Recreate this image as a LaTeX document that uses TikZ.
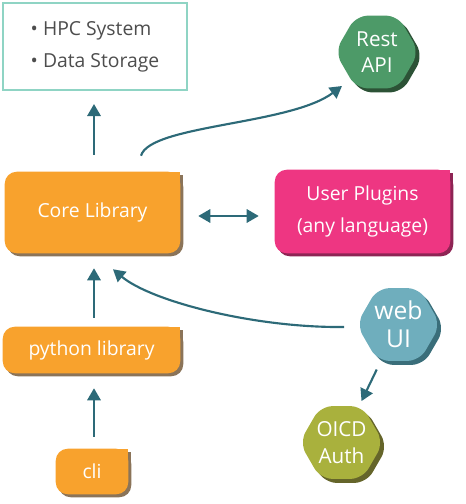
\documentclass[tikz,border=0pt]{standalone}
\usepackage{fontspec}
\setmainfont{Open Sans}
\usetikzlibrary{arrows.meta,shapes.geometric,shadows,calc,backgrounds}
\definecolor{orangec}{HTML}{F8A22D}
\definecolor{orangesh}{HTML}{8B7459}
\definecolor{pinkc}{HTML}{EE3682}
\definecolor{pinksh}{HTML}{8E2454}
\definecolor{hexgreen}{HTML}{4D9A68}
\definecolor{hexgreensh}{HTML}{2C5236}
\definecolor{hexweb}{HTML}{6FAEBD}
\definecolor{hexwebsh}{HTML}{3A6E7A}
\definecolor{hexolive}{HTML}{A9B13D}
\definecolor{hexolivesh}{HTML}{65652A}
\definecolor{arrowc}{HTML}{2D6A78}
\definecolor{hpcc}{HTML}{8FD4C4}
\definecolor{textc}{HTML}{4D4D4D}
\newcommand\tabbox[3]{%
  \fill[#3, rounded corners=9pt] ($(#1.north west)+(3,3)$) rectangle ($(#1.south east)+(3,3)$);
  \fill[#3] ($(#1.north east)+(3,3)$) rectangle ($(#1.north east)+(-15,18)$);
  \fill[#2, rounded corners=9pt] (#1.north west) rectangle (#1.south east);
  \fill[#2] (#1.north east) rectangle ($(#1.north east)+(-15,15)$);}
\begin{document}
\begin{tikzpicture}[x=0.75pt,y=-0.75pt,
  txt/.style={text=white, align=center, inner sep=0pt, font=\fontsize{14.5}{24}\selectfont},
  arr/.style={draw=arrowc, line width=1.6pt, -{Triangle[length=9pt,width=10pt]}},
  hex/.style={regular polygon, regular polygon sides=6, minimum size=63pt, inner sep=0pt,
    rounded corners=9pt, text=white, align=center, fill=#1,
    drop shadow={shadow xshift=3pt, shadow yshift=-3pt, fill=#1sh, opacity=1}}]
\useasboundingbox (0,0) rectangle (466,504);

% nodes
\node[draw=hpcc, line width=1.5pt, minimum width=138pt, minimum height=65.25pt, inner sep=0pt,
  align=left, text=textc, font=\fontsize{14.5}{24}\selectfont] (hpc) at (95,46.5) {• HPC System\\• Data Storage};
\node[txt, minimum width=131.25pt, minimum height=60.75pt] (core) at (92.5,212.5) {Core Library};
\node[txt, minimum width=131.25pt, minimum height=62.25pt] (plugins) at (362.5,211.5) {User Plugins\\(any language)};
\node[txt, minimum width=132.75pt, minimum height=34.5pt] (python) at (91.5,350) {python library};
\node[txt, minimum width=54pt, minimum height=33.75pt] (cli) at (92,471.5) {cli};
\node[hex=hexgreen, font=\fontsize{15.5}{19.5}\selectfont] (rest) at (377,52) {Rest\\API};
\node[hex=hexweb, font=\fontsize{18.5}{21}\selectfont] (web) at (398.5,324.5) {web\\UI};
\node[hex=hexolive, font=\fontsize{15.5}{20}\selectfont] (oicd) at (341.5,442.5) {OICD\\Auth};

\begin{scope}[on background layer]
  \tabbox{core}{orangec}{orangesh}
  \tabbox{plugins}{pinkc}{pinksh}
  \tabbox{python}{orangec}{orangesh}
  \tabbox{cli}{orangec}{orangesh}
\end{scope}

% connectors
\draw[arr] ($(core.north)+(1.5,-17)$) -- ($(hpc.south)+(-1,13)$);
\draw[arr, {Triangle[length=9pt,width=10pt]}-{Triangle[length=9pt,width=10pt]}]
  ($(core.east)+(18,3.5)$) -- ($(plugins.west)+(-16,4.5)$);
\draw[arr] ($(core.north)+(48.5,-16)$) .. controls ($(core.north)+(57.5,-47)$) and ($(rest.center)+(-87,73)$) .. ($(rest.center)+(-35,34)$);
\draw[arr] ($(python.north)+(2.5,-9)$) -- ($(core.south)+(1.5,15)$);
\draw[arr] ($(cli.north)+(2,-12)$) -- ($(python.south)+(2.5,15)$);
\draw[arr] ($(web.west)+(-12,2.5)$) .. controls ($(web.west)+(-102,3.5)$) and ($(core.south)+(58.5,48)$) .. ($(core.south)+(20.5,16)$);
\draw[arr, shorten <=7pt, shorten >=4pt] (web) -- (oicd);
\end{tikzpicture}
\end{document}
